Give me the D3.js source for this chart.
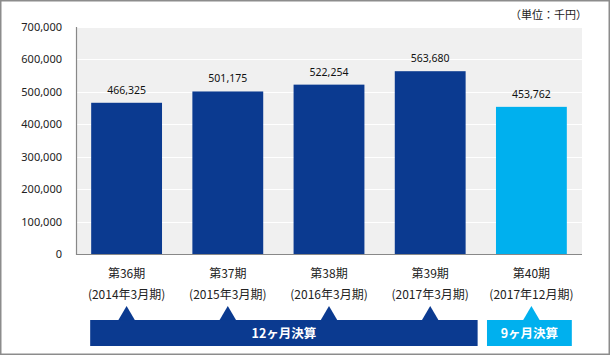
<!DOCTYPE html>
<html><head><meta charset="utf-8">
<script src="https://cdn.jsdelivr.net/npm/d3@7"></script>
<style>body{margin:0;background:#fff}svg{display:block}</style>
</head><body><svg id="c" width="611" height="355"></svg>
<script>
const periods = ["第36期","第37期","第38期","第39期","第40期"];
const fiscal = ["(2014年3月期)","(2015年3月期)","(2016年3月期)","(2017年3月期)","(2017年12月期)"];
const values = [466325, 501175, 522254, 563680, 453762];
const yTicks = [0,100000,200000,300000,400000,500000,600000,700000];
const groups = [{label:"12ヶ月決算", from:0, to:3}, {label:"9ヶ月決算", from:4, to:4}];
const unitLabel = "（単位：千円）";

const DARK = "#0b3a90", LIGHT = "#00b0ee";
const svg = d3.select("#c");
const L = 76, R = 582, T = 27, B = 254;
const x = d3.scaleBand().domain(d3.range(values.length)).range([L, R]).paddingInner(0.3).paddingOuter(0.15);
const y = d3.scaleLinear().domain([0, 700000]).range([B, T]);
const num = d3.format(",");
const color = i => i === 4 ? LIGHT : DARK;

svg.append("rect").attr("x",0.75).attr("y",0.75).attr("width",608.5).attr("height",353.5)
  .attr("fill","#fff").attr("stroke","#8c8c8c").attr("stroke-width",1.5);

svg.append("text").attr("x",587).attr("y",19).attr("text-anchor","end")
  .attr("font-family","'Noto Sans CJK JP'").attr("font-size",11).attr("fill","#222").text(unitLabel);

svg.append("rect").attr("x",L).attr("y",T).attr("width",R-L).attr("height",B-T).attr("fill","#f0f0f0");

svg.append("g").selectAll("line").data(yTicks.slice(1)).join("line")
  .attr("x1",L).attr("x2",R).attr("y1",d=>Math.round(y(d))+0.5).attr("y2",d=>Math.round(y(d))+0.5)
  .attr("stroke","#fff").attr("stroke-width",1);

const yAxis = svg.append("g").attr("transform",`translate(${L},0)`)
  .call(d3.axisLeft(y).tickValues(yTicks).tickFormat(num).tickSize(0).tickPadding(14));
yAxis.select(".domain").remove();
yAxis.selectAll("text").attr("font-family","'Noto Sans','Open Sans',sans-serif").attr("font-size",11).attr("fill","#222");

svg.append("g").selectAll("rect").data(values).join("rect")
  .attr("x",(d,i)=>x(i)).attr("width",x.bandwidth())
  .attr("y",d=>y(d)).attr("height",d=>B-y(d)).attr("fill",(d,i)=>color(i));

svg.append("g").selectAll("text").data(values).join("text")
  .attr("x",(d,i)=>x(i)+x.bandwidth()/2).attr("y",d=>y(d)-9).attr("text-anchor","middle")
  .attr("font-family","'Noto Sans','Open Sans',sans-serif").attr("font-size",10.5).attr("fill","#111")
  .text(d=>num(d));

svg.append("line").attr("x1",L+0.5).attr("x2",L+0.5).attr("y1",T).attr("y2",B+1).attr("stroke","#888").attr("stroke-width",1.2);
svg.append("line").attr("x1",L).attr("x2",R).attr("y1",B+0.5).attr("y2",B+0.5).attr("stroke","#888").attr("stroke-width",1.2);

const cat = svg.append("g").attr("font-family","'Noto Sans CJK JP'").attr("font-size",12).attr("font-weight",400).attr("fill","#222").attr("text-anchor","middle");
cat.selectAll("text.p").data(periods).join("text").attr("class","p")
  .attr("x",(d,i)=>x(i)+x.bandwidth()/2).attr("y",278).text(d=>d);
cat.selectAll("text.f").data(fiscal).join("text").attr("class","f")
  .attr("x",(d,i)=>x(i)+x.bandwidth()/2).attr("y",298.5).text(d=>d);

// group banners
const boxTop = 320, boxBot = 346;
groups.forEach((g,gi)=>{
  const c = gi === 0 ? DARK : LIGHT;
  const x0 = x(g.from) - (gi===0 ? 1 : 9);
  const x1 = gi===0 ? x(g.to)+x.bandwidth()+12 : x(g.to)+x.bandwidth()+5;
  svg.append("rect").attr("x",x0).attr("y",boxTop).attr("width",x1-x0).attr("height",boxBot-boxTop).attr("fill",c);
  d3.range(g.from, g.to+1).forEach(i=>{
    const cx = x(i)+x.bandwidth()/2;
    svg.append("path").attr("d",`M${cx-8.5},${boxTop+0.5} L${cx},${boxTop-14} L${cx+8.5},${boxTop+0.5} Z`).attr("fill",c);
  });
  svg.append("text").attr("x",(x0+x1)/2).attr("y",337.5).attr("text-anchor","middle")
    .attr("font-family","'Noto Sans CJK JP'").attr("font-size",12.5).attr("font-weight",700).attr("fill","#fff").text(g.label);
});
</script></body></html>
